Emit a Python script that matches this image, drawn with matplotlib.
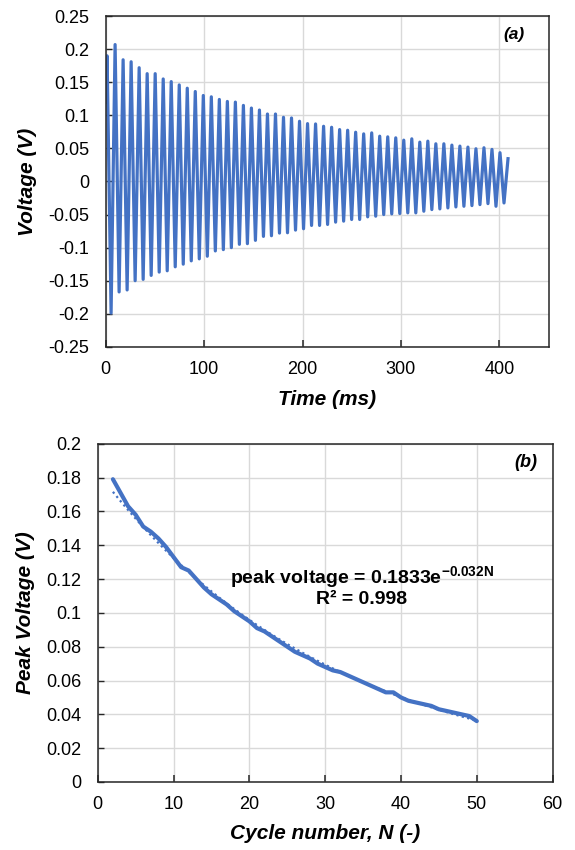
import matplotlib
matplotlib.use("Agg")
import matplotlib.pyplot as plt
from matplotlib.ticker import FuncFormatter, MultipleLocator
import numpy as np

plt.rcParams["font.family"] = ["Liberation Sans", "DejaVu Sans"]
plt.rcParams["mathtext.fontset"] = "custom"
plt.rcParams["mathtext.bf"] = "Liberation Sans:bold"
plt.rcParams["mathtext.rm"] = "Liberation Sans"

BLUE = "#4472C4"
GRID = "#D9D9D9"

# --- (a) decaying voltage signal: peak and trough of each cycle ---
signal_start = 0.12
cycle_period_ms = 8.15
first_peak_ms = 1.3
peak_values = [
    0.190, 0.207, 0.184, 0.181, 0.172, 0.163, 0.163, 0.155, 0.151, 0.146,
    0.141, 0.136, 0.130, 0.128, 0.124, 0.121, 0.120, 0.115, 0.111, 0.108,
    0.102, 0.102, 0.097, 0.096, 0.091, 0.0875, 0.087, 0.0835, 0.082, 0.0785,
    0.0775, 0.0745, 0.072, 0.0735, 0.0685, 0.0675, 0.066, 0.0625, 0.0645, 0.0595,
    0.061, 0.057, 0.057, 0.055, 0.0535, 0.052, 0.0495, 0.051, 0.0485, 0.0435,
    0.0345,
]
trough_values = [
    -0.199, -0.167, -0.164, -0.150, -0.148, -0.142, -0.137, -0.135, -0.129, -0.125,
    -0.120, -0.117, -0.113, -0.105, -0.103, -0.100, -0.095, -0.094, -0.089, -0.083,
    -0.082, -0.078, -0.0775, -0.0735, -0.0715, -0.0665, -0.0665, -0.065, -0.0615, -0.060,
    -0.0575, -0.0575, -0.0535, -0.0525, -0.050, -0.049, -0.0485, -0.0475, -0.0475, -0.045,
    -0.0425, -0.0415, -0.040, -0.0385, -0.0375, -0.0365, -0.035, -0.0335, -0.0375, -0.0325,
]

# --- (b) peak voltage per cycle ---
cycle_number = list(range(2, 51))
peak_voltage = [
    0.179, 0.171, 0.163, 0.158, 0.151, 0.148, 0.144, 0.139, 0.133, 0.127,
    0.125, 0.120, 0.115, 0.111, 0.108, 0.105, 0.101, 0.098, 0.095, 0.091,
    0.089, 0.086, 0.083, 0.080, 0.077, 0.075, 0.073, 0.070, 0.068, 0.066,
    0.065, 0.063, 0.061, 0.059, 0.057, 0.055, 0.053, 0.053, 0.050, 0.048,
    0.047, 0.046, 0.045, 0.043, 0.042, 0.041, 0.040, 0.039, 0.036,
]

LABEL_KW = dict(fontsize=15, fontweight="bold", fontstyle="italic")


def excel_fmt(v, _pos):
    s = f"{v:.2f}".rstrip("0").rstrip(".")
    if s in ("-0", ""):
        s = "0"
    return s


def style_axes(ax):
    ax.grid(True, color=GRID, linewidth=1.0)
    ax.set_axisbelow(True)
    for sp in ax.spines.values():
        sp.set_color("#262626")
        sp.set_linewidth(1.1)
    ax.tick_params(axis="x", direction="in", length=5, width=1.1, labelsize=13, pad=10,
                   color="#262626", labelcolor="black")
    ax.tick_params(axis="y", direction="in", length=4, width=1.0, labelsize=13, pad=12,
                   color="#262626", labelcolor="black")
    ax.yaxis.set_major_formatter(FuncFormatter(excel_fmt))


fig = plt.figure(figsize=(5.75, 8.5), dpi=100)

# ---------- (a) ----------
ax1 = fig.add_axes([0.184, 0.592, 0.770, 0.389])
t_pk = [first_peak_ms + k * cycle_period_ms for k in range(len(peak_values))]
times = [0.0]
volts = [signal_start]
for k, pk in enumerate(peak_values):
    times.append(t_pk[k])
    volts.append(pk)
    if k < len(trough_values):
        times.append(t_pk[k] + cycle_period_ms / 2)
        volts.append(trough_values[k])
ax1.plot(times, volts, color=BLUE, linewidth=2.3, solid_joinstyle="round")
ax1.set_xlim(0, 450)
ax1.set_ylim(-0.25, 0.25)
ax1.xaxis.set_major_locator(MultipleLocator(100))
ax1.yaxis.set_major_locator(MultipleLocator(0.05))
style_axes(ax1)
ax1.set_xlabel("Time (ms)", labelpad=9, **LABEL_KW)
ax1.set_ylabel("Voltage (V)", labelpad=8, **LABEL_KW)
ax1.text(415, 0.223, "(a)", fontsize=12.5, fontweight="bold", fontstyle="italic", ha="center", va="center")

# ---------- (b) ----------
ax2 = fig.add_axes([0.170, 0.080, 0.791, 0.398])
n = np.array(cycle_number, dtype=float)
pv = np.array(peak_voltage)
slope, intercept = np.polyfit(n, np.log(pv), 1)
fit = np.exp(intercept + slope * n)
ax2.plot(n, fit, color=BLUE, linewidth=1.6, linestyle=(0, (1, 1.5)))
ax2.plot(n, pv, color=BLUE, linewidth=3.0, solid_capstyle="round", solid_joinstyle="round")
ax2.set_xlim(0, 60)
ax2.set_ylim(0, 0.2)
ax2.xaxis.set_major_locator(MultipleLocator(10))
ax2.yaxis.set_major_locator(MultipleLocator(0.02))
style_axes(ax2)
ax2.set_xlabel("Cycle number, N (-)", labelpad=8, **LABEL_KW)
ax2.set_ylabel("Peak Voltage (V)", labelpad=8, **LABEL_KW)
ax2.text(34.8, 0.1207, r"peak voltage = 0.1833e$^{\mathbf{-0.032N}}$", fontsize=14,
         fontweight="bold", ha="center", va="center")
ax2.text(34.8, 0.1077, "R² = 0.998", fontsize=14, fontweight="bold", ha="center", va="center")
ax2.text(56.5, 0.1888, "(b)", fontsize=13, fontweight="bold", fontstyle="italic", ha="center", va="center")

fig.savefig("out.png", dpi=100, facecolor="white")
